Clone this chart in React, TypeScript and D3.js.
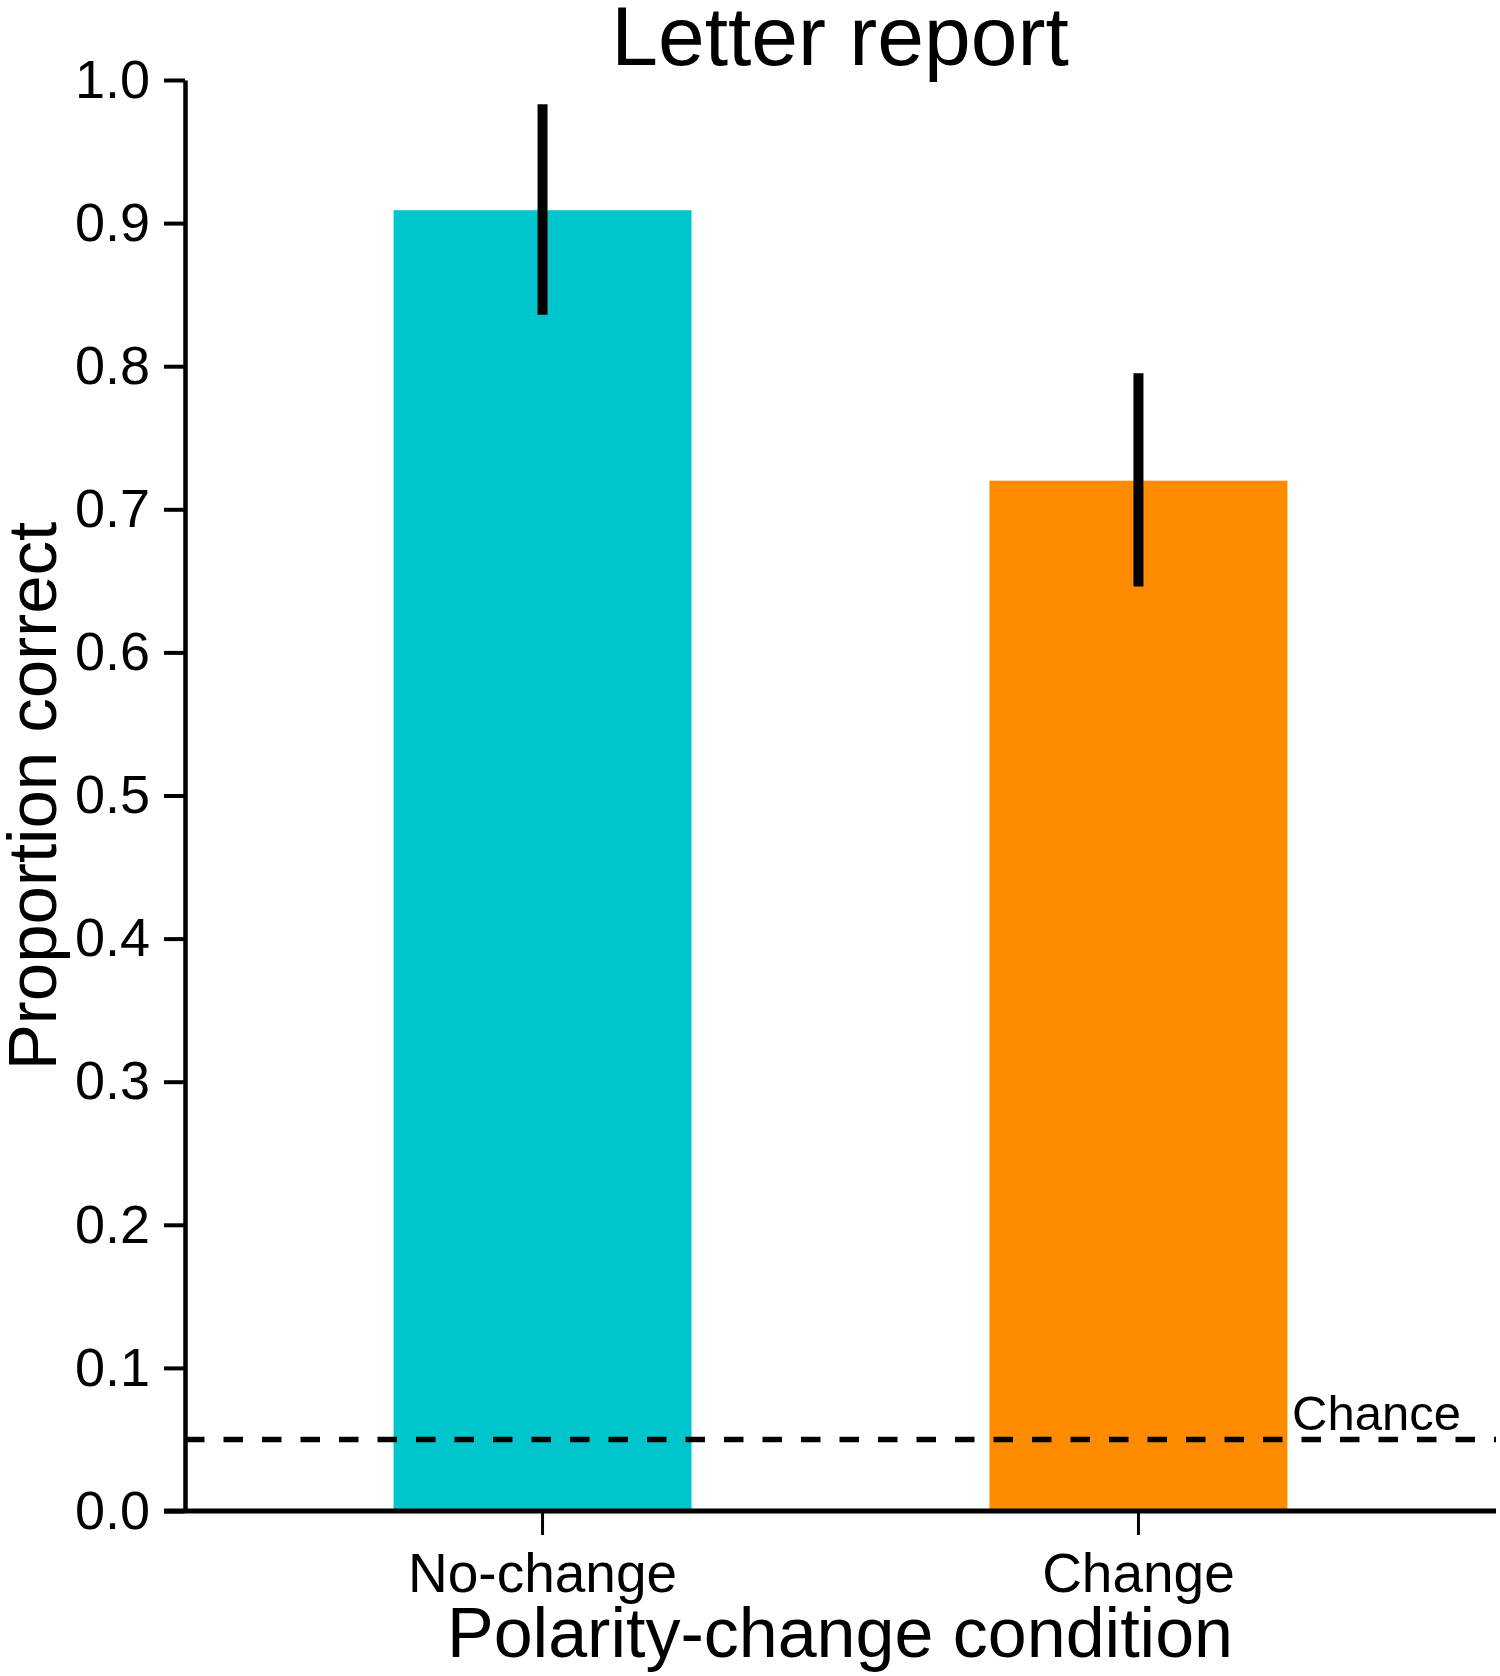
import { useEffect, useRef } from 'react';
import * as d3 from 'd3';

// Data
const CONDITIONS = ['No-change', 'Change'];
const MEAN_CORRECT = [0.909, 0.72];
const CI_LOW = [0.836, 0.646];
const CI_HIGH = [0.983, 0.795];
const BAR_COLORS = ['#00C5CD', '#FF8C00'];
const Y_TICKS = [0, 0.1, 0.2, 0.3, 0.4, 0.5, 0.6, 0.7, 0.8, 0.9, 1.0];
const CHANCE_LEVEL = 0.05;

const WIDTH = 1500;
const HEIGHT = 1676;
const FONT = '"Liberation Sans", Arial, sans-serif';

export default function App() {
  const svgRef = useRef<SVGSVGElement>(null);

  useEffect(() => {
    if (!svgRef.current) return;
    const svg = d3.select(svgRef.current);
    svg.selectAll('*').remove();

    const plot = { left: 185, right: 1496, top: 80, bottom: 1511 };

    const xScale = d3.scaleBand<string>()
      .domain(CONDITIONS)
      .range([plot.left, plot.right])
      .paddingInner(0.5)
      .paddingOuter(0.35);

    const yScale = d3.scaleLinear()
      .domain([0, 1])
      .range([plot.bottom, plot.top]);

    // Bars
    svg.append('g')
      .selectAll('rect')
      .data(CONDITIONS)
      .join('rect')
      .attr('x', d => xScale(d) || 0)
      .attr('width', xScale.bandwidth())
      .attr('y', (_, i) => yScale(MEAN_CORRECT[i]))
      .attr('height', (_, i) => yScale(0) - yScale(MEAN_CORRECT[i]))
      .attr('fill', (_, i) => BAR_COLORS[i]);

    // Error bars (no caps)
    svg.append('g')
      .selectAll('line')
      .data(CONDITIONS)
      .join('line')
      .attr('x1', d => (xScale(d) || 0) + xScale.bandwidth() / 2)
      .attr('x2', d => (xScale(d) || 0) + xScale.bandwidth() / 2)
      .attr('y1', (_, i) => yScale(CI_LOW[i]))
      .attr('y2', (_, i) => yScale(CI_HIGH[i]))
      .attr('stroke', '#000')
      .attr('stroke-width', 10);

    // Chance line
    svg.append('line')
      .attr('x1', plot.left)
      .attr('x2', plot.right)
      .attr('y1', yScale(CHANCE_LEVEL))
      .attr('y2', yScale(CHANCE_LEVEL))
      .attr('stroke', '#000')
      .attr('stroke-width', 5.5)
      .attr('stroke-dasharray', '19.5,19');

    svg.append('text')
      .attr('x', 1292)
      .attr('y', yScale(CHANCE_LEVEL) - 9)
      .attr('font-family', FONT)
      .attr('font-size', 49)
      .attr('fill', '#000')
      .text('Chance');

    // Y axis
    const yAxis = svg.append('g')
      .attr('transform', `translate(${plot.left},0)`)
      .call(d3.axisLeft(yScale)
        .tickValues(Y_TICKS)
        .tickFormat(d3.format('.1f'))
        .tickSize(21)
        .tickPadding(14)
        .tickSizeOuter(0));
    yAxis.select('.domain').attr('stroke', '#000').attr('stroke-width', 4.5);
    yAxis.selectAll('.tick line').attr('stroke', '#000').attr('stroke-width', 4);
    yAxis.selectAll('.tick text')
      .attr('font-family', FONT)
      .attr('font-size', 54)
      .attr('fill', '#000');

    // X axis
    const xAxis = svg.append('g')
      .attr('transform', `translate(0,${plot.bottom})`)
      .call(d3.axisBottom(xScale).tickSize(24).tickPadding(18).tickSizeOuter(0));
    xAxis.select('.domain').remove();
    xAxis.append('line')
      .attr('x1', plot.left - 21)
      .attr('x2', plot.right)
      .attr('stroke', '#000')
      .attr('stroke-width', 5);
    xAxis.selectAll('.tick line').attr('stroke', '#000').attr('stroke-width', 3);
    xAxis.selectAll('.tick text')
      .attr('font-family', FONT)
      .attr('font-size', 55)
      .attr('fill', '#000');

    // Axis titles
    svg.append('text')
      .attr('x', 840)
      .attr('y', 1657)
      .attr('text-anchor', 'middle')
      .attr('font-family', FONT)
      .attr('font-size', 70)
      .attr('fill', '#000')
      .text('Polarity-change condition');

    svg.append('text')
      .attr('transform', 'translate(56,796) rotate(-90)')
      .attr('text-anchor', 'middle')
      .attr('font-family', FONT)
      .attr('font-size', 69)
      .attr('fill', '#000')
      .text('Proportion correct');

    // Title
    svg.append('text')
      .attr('x', 840)
      .attr('y', 65)
      .attr('text-anchor', 'middle')
      .attr('font-family', FONT)
      .attr('font-size', 84)
      .attr('fill', '#000')
      .text('Letter report');
  }, []);

  return (
    <div style={{ position: 'absolute', left: 0, top: 0 }}>
      <svg ref={svgRef} width={WIDTH} height={HEIGHT} style={{ display: 'block', background: '#fff' }} />
    </div>
  );
}
